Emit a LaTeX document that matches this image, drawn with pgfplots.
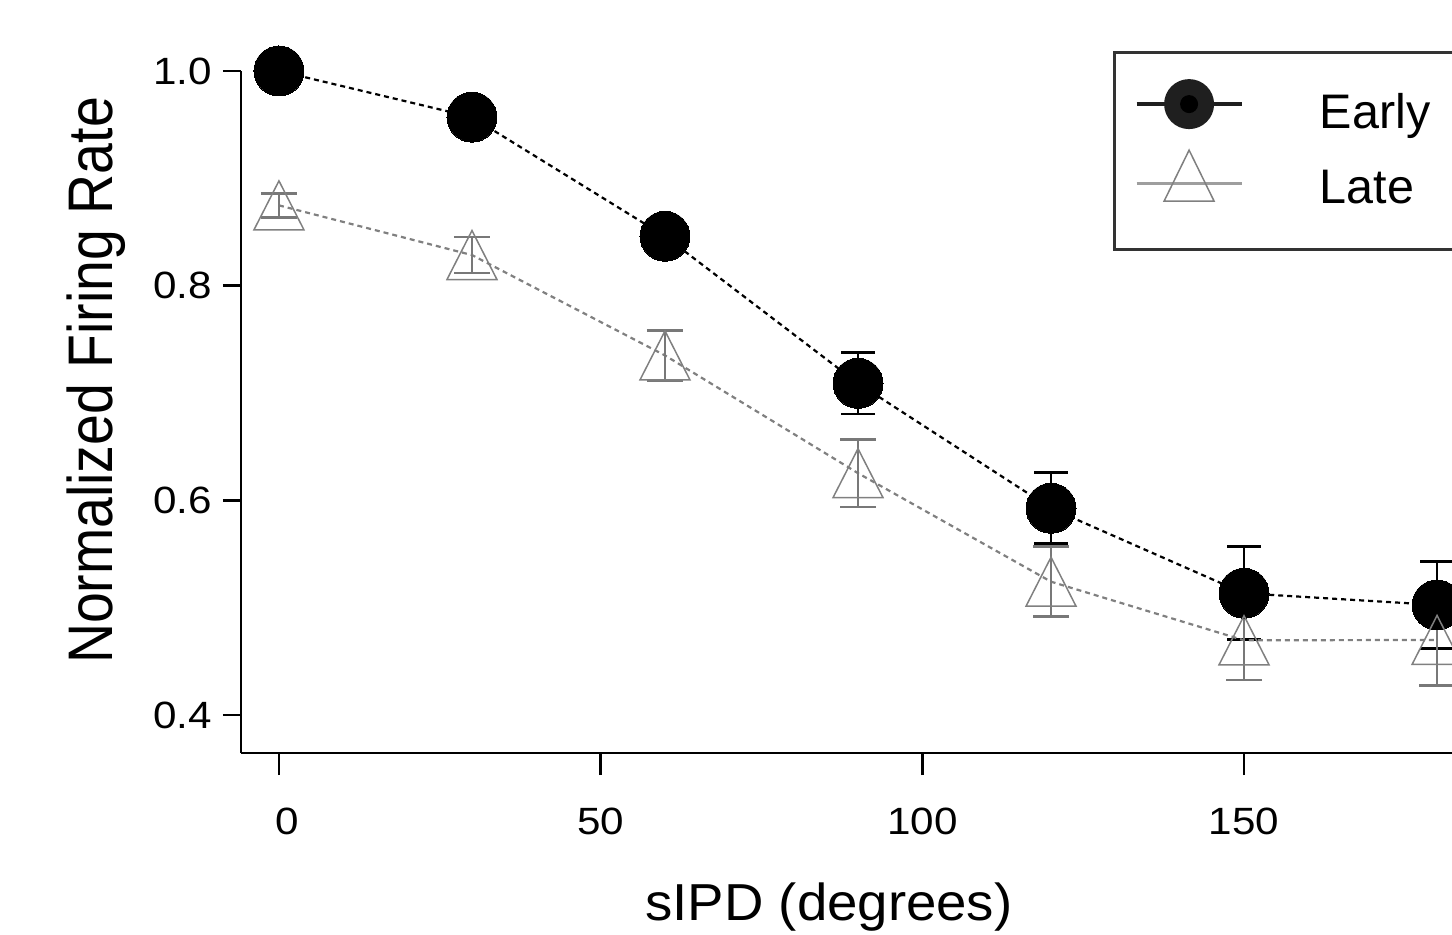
\documentclass[border=0pt]{standalone}
\usepackage{fontspec}
\setmainfont{Liberation Sans}
\newfontfamily\tickfont{Liberation Sans}[FakeStretch=1.11]
\newfontfamily\xlabfont{Liberation Sans}[FakeStretch=1.05]
\newfontfamily\ylabfont{Liberation Sans}[FakeStretch=0.88]
\usepackage{pgfplots}
\usepackage{pgfplotstable}
\pgfplotsset{compat=1.18}

\definecolor{lategray}{gray}{0.50}
\definecolor{latebar}{gray}{0.47}
\definecolor{legline}{gray}{0.62}

% open triangle, apex up, centred on its bounding box
\pgfdeclareplotmark{opentri}{%
  \pgfpathmoveto{\pgfqpoint{0pt}{12.25pt}}%
  \pgfpathlineto{\pgfqpoint{-12.5pt}{-12.25pt}}%
  \pgfpathlineto{\pgfqpoint{12.5pt}{-12.25pt}}%
  \pgfpathclose
  \pgfusepathqstroke}

% sIPD (degrees), normalized rate, error
\pgfplotstableread{
x   y       e
0   1.0000  0.0100
30  0.9570  0.0120
60  0.8460  0.0150
90  0.7090  0.0286
120 0.5926  0.0331
150 0.5134  0.0434
180 0.5025  0.0407
}\earlydata

\pgfplotstableread{
x   y       e
0   0.8748  0.0112
30  0.8285  0.0168
60  0.7350  0.0235
90  0.6253  0.0315
120 0.5242  0.0326
150 0.4696  0.0370
180 0.4699  0.0426
}\latedata

\begin{document}
\begin{tikzpicture}
\begin{axis}[
  at={(120.5pt,-376.5pt)}, anchor=south west,
  scale only axis, width=630.2pt, height=341pt,
  xmin=-5.9, xmax=190, ymin=0.3646, ymax=1.0,
  clip=false,
  axis x line*=bottom, axis y line*=left,
  axis line style={line width=1.4pt, -},
  tick align=outside,
  xtick={0,50,100,150}, xticklabels={\hspace*{8pt}0,50,100,150},
  ytick={0.4,0.6,0.8,1.0}, yticklabels={0.4,0.6,0.8,1.0},
  minor tick num=0,
  xtick style={line width=1.4pt, black, /pgfplots/major tick length=11pt},
  ytick style={line width=1.4pt, black, /pgfplots/major tick length=9pt},
  tick label style={font=\tickfont\fontsize{19}{22}\selectfont, inner sep=0pt},
  xticklabel style={anchor=north, yshift=-23pt},
  yticklabel style={anchor=east, xshift=-10pt},
  xlabel={sIPD (degrees)},
  xlabel style={font=\xlabfont\fontsize{26}{29}\selectfont,
    at={(rel axis cs:0.4665,-0.24487)}, anchor=base, inner sep=0pt},
  ylabel={Normalized Firing Rate},
  ylabel style={font=\ylabfont\fontsize{31.5}{35}\selectfont,
    at={(rel axis cs:-0.10156,0.5462)}, anchor=base, inner sep=0pt},
  legend style={at={(0.6918,1.0293)}, anchor=north west,
    draw=black!80, line width=1.4pt, fill=white,
    inner xsep=10pt, inner ysep=13.35pt,
    column sep=38pt, row sep=1pt,
    cells={anchor=base west},
    nodes={inner sep=0pt, text depth=9.5pt},
    font=\fontsize{24.25}{27}\selectfont},
]

\addplot[black, line width=1.1pt, dash pattern=on 2.5pt off 2pt,
  mark=*, mark size=12.5pt, mark options={solid, fill=black, draw=black, line width=0pt},
  error bars/.cd, y dir=both, y explicit,
  error bar style={line width=1.4pt, solid, black},
  error mark options={rotate=90, mark size=8.5pt, line width=1.4pt, solid, black},
  /pgfplots/legend image code/.code={%
    \draw[solid, line width=2.25pt, black!88] (0pt,12.15pt) -- (52.5pt,12.15pt);
    \fill[solid, draw=none, black!88] (26.25pt,12.15pt) circle[radius=12.5pt];
    \fill[solid, draw=none, black] (26.25pt,12.15pt) circle[radius=4.5pt];},
  ]
  table[x=x, y=y, y error=e] {\earlydata};
\addlegendentry{Early\hspace*{40pt}}

\addplot[lategray, line width=1.1pt, dash pattern=on 2.5pt off 2pt,
  mark=opentri, mark options={solid, draw=lategray, line width=0.75pt},
  error bars/.cd, y dir=both, y explicit,
  error bar style={line width=1.4pt, solid, latebar},
  error mark options={rotate=90, mark size=9pt, line width=1.4pt, solid, latebar},
  /pgfplots/legend image code/.code={%
    \draw[solid, line width=1.5pt, legline] (0pt,10pt) -- (52.5pt,10pt);
    \draw[solid, line width=0.75pt, lategray]
      (13.75pt,1.35pt) -- (26.25pt,26.85pt) -- (38.75pt,1.35pt) -- cycle;},
  ]
  table[x=x, y=y, y error=e] {\latedata};
\addlegendentry{Late}

\end{axis}
\pgfresetboundingbox
\path[use as bounding box] (0,0) rectangle (726pt,-467.5pt);
\end{tikzpicture}
\end{document}
